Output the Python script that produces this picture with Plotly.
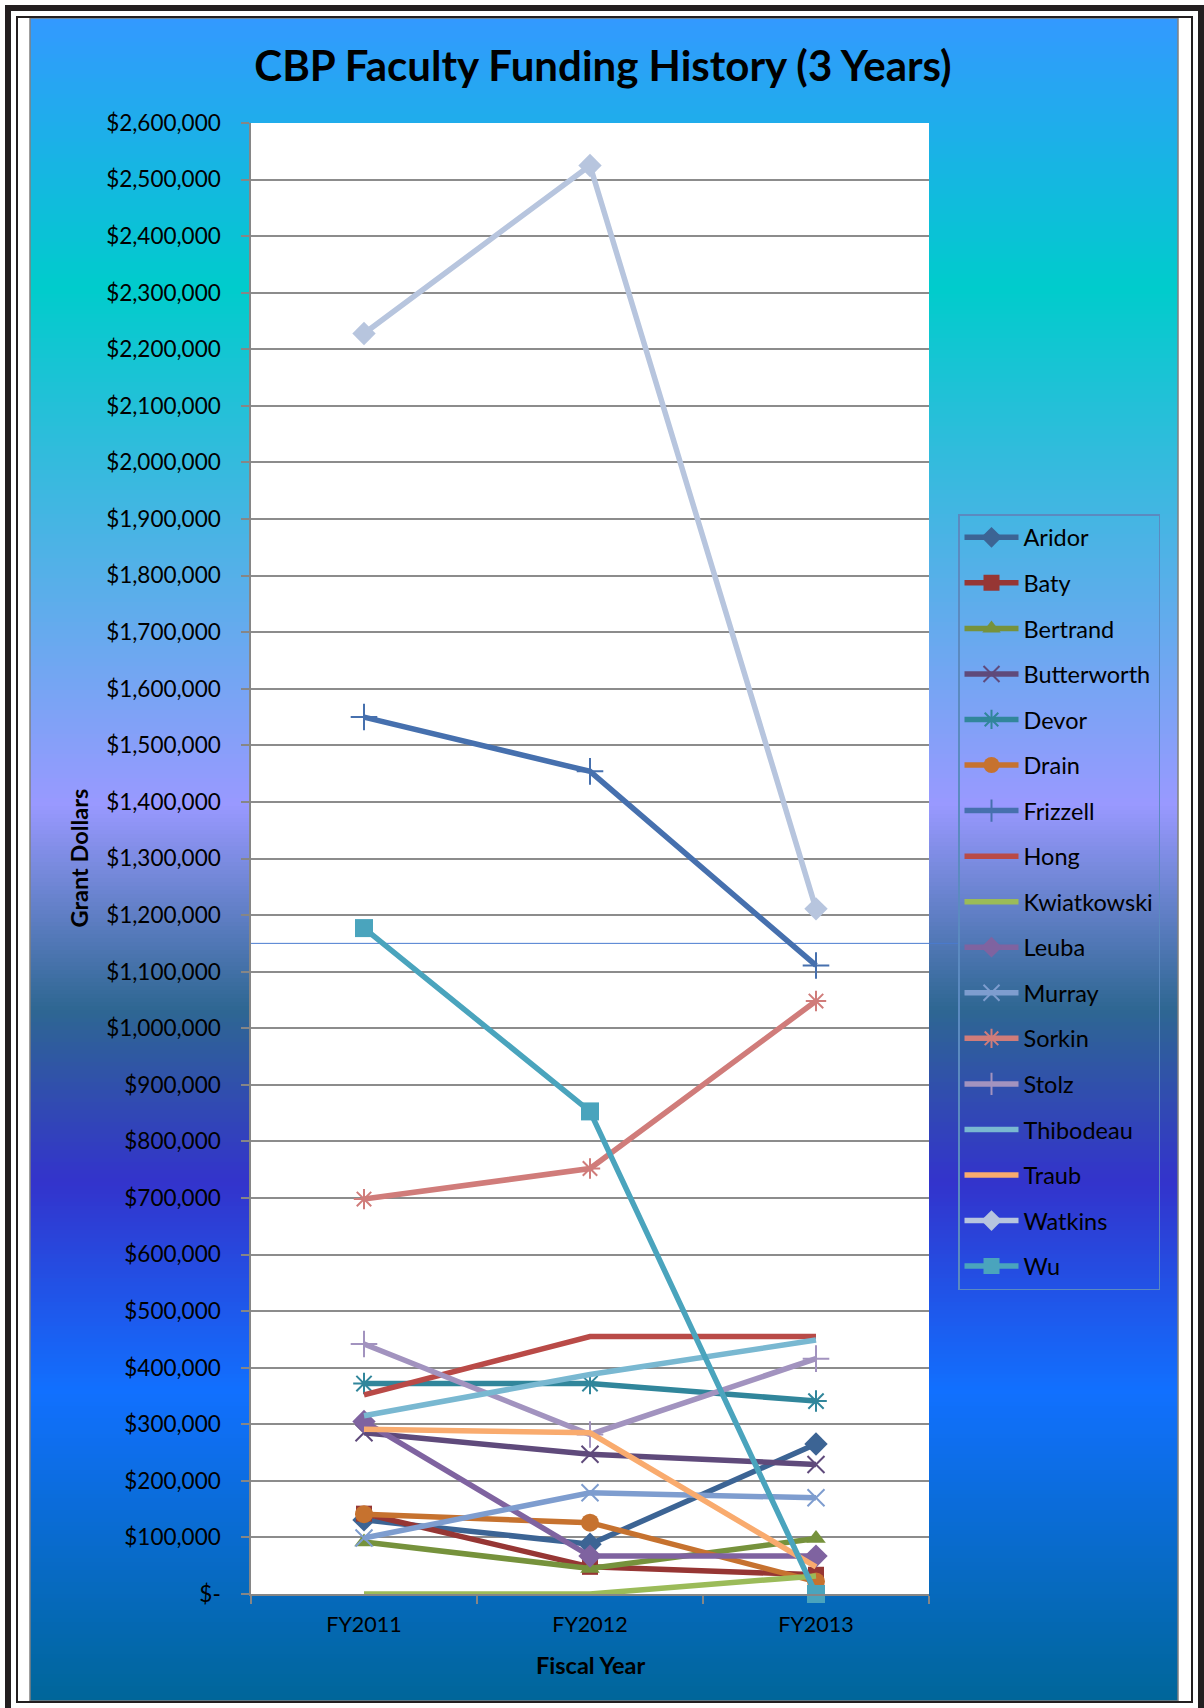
import plotly.graph_objects as go

# ---- data -------------------------------------------------------------
fiscal_years = ["FY2011", "FY2012", "FY2013"]

faculty = [
    "Aridor", "Baty", "Bertrand", "Butterworth", "Devor", "Drain", "Frizzell",
    "Hong", "Kwiatkowski", "Leuba", "Murray", "Sorkin", "Stolz", "Thibodeau",
    "Traub", "Watkins", "Wu",
]

aridor = [131000, 88000, 265000]
baty = [142000, 48000, 34000]
bertrand = [92000, 45000, 98000]
butterworth = [285000, 247000, 229000]
devor = [372000, 372000, 341000]
drain = [141000, 126000, 22000]
frizzell = [1550000, 1454000, 1111000]
hong = [352000, 455000, 455000]
kwiatkowski = [0, 0, 32000]
leuba = [305000, 67000, 67000]
murray = [99000, 179000, 170000]
sorkin = [698000, 752000, 1048000]
stolz = [442000, 282000, 416000]
thibodeau = [315000, 388000, 449000]
traub = [291000, 285000, 48000]
watkins = [2228000, 2525000, 1211000]
wu = [1177000, 853000, 0]

series_values = [
    aridor, baty, bertrand, butterworth, devor, drain, frizzell, hong,
    kwiatkowski, leuba, murray, sorkin, stolz, thibodeau, traub, watkins, wu,
]

y_tick_values = list(range(0, 2600001, 100000))
y_tick_labels = ["$-"] + ["${:,}".format(v) for v in y_tick_values[1:]]

# ---- styling ----------------------------------------------------------
series_colors = [
    "#3C6494", "#963634", "#76923C", "#5F4A7B", "#31869B", "#C6722F",
    "#4670AE", "#B94A47", "#9BBB59", "#7F63A0", "#7E9DCF", "#D07C7A",
    "#A293BF", "#79B8D1", "#F9AB6E", "#B7C5DE", "#4AA4BD",
]
# (symbol, size) per series; None means line only
series_markers = [
    ("diamond", 18), ("square", 16), ("triangle-up", 17), ("x-thin-open", 17),
    ("asterisk-open", 18), ("circle", 18), ("cross-thin-open", 19), None,
    None, ("diamond", 18), ("x-thin-open", 17), ("asterisk-open", 17),
    ("cross-thin-open", 19), None, None, ("diamond", 18), ("square", 18),
]

W, H = 1204, 1708
PL, PR, PT, PB = 251, 929, 123, 1594  # plot area edges in pixels


def px_x(px):
    return (px - PL) / (PR - PL)


def px_y(py):
    return (PB - py) / (PB - PT)


FONT = "Lato"

fig = go.Figure()

for name, vals, color, mk in zip(faculty, series_values, series_colors, series_markers):
    kw = dict(
        x=fiscal_years, y=vals, name=name, legendgroup=name,
        line=dict(color=color, width=5.5), cliponaxis=False,
    )
    if mk is None:
        kw["mode"] = "lines"
    else:
        sym, size = mk
        kw["mode"] = "lines+markers"
        if sym.endswith("-open"):
            kw["marker"] = dict(symbol=sym, size=size, color=color,
                                line=dict(color=color, width=2))
        else:
            kw["marker"] = dict(symbol=sym, size=size, color=color,
                                line=dict(color=color, width=0))
    fig.add_trace(go.Scatter(**kw))

# ---- background: framed vertical gradient -----------------------------
shapes = []

grad_stops = [
    (18, (0x33, 0x99, 0xFF)),
    (287, (0x00, 0xCC, 0xCC)),
    (805, (0x99, 0x99, 0xFF)),
    (1009, (0x2E, 0x67, 0x92)),
    (1182, (0x33, 0x33, 0xCC)),
    (1391, (0x11, 0x70, 0xFF)),
    (1701, (0x00, 0x66, 0x99)),
]


def grad_color(py):
    for (y0, c0), (y1, c1) in zip(grad_stops[:-1], grad_stops[1:]):
        if py <= y1:
            t = (py - y0) / (y1 - y0)
            t = min(max(t, 0.0), 1.0)
            rgb = [round(a + (b - a) * t) for a, b in zip(c0, c1)]
            return "rgb({},{},{})".format(*rgb)
    c = grad_stops[-1][1]
    return "rgb({},{},{})".format(*c)


GX0, GX1, GY0, GY1 = 30, 1178, 18, 1701
step = 4
y = GY0
while y < GY1:
    y_end = min(y + step + 1, GY1)
    shapes.append(dict(
        type="rect", xref="paper", yref="paper", layer="below",
        x0=px_x(GX0), x1=px_x(GX1), y0=px_y(y), y1=px_y(y_end),
        fillcolor=grad_color(y + step / 2), line=dict(width=0),
    ))
    y += step

# white plotting panel on top of the gradient
shapes.append(dict(
    type="rect", xref="paper", yref="paper", layer="below",
    x0=0, x1=1, y0=0, y1=1, fillcolor="white", line=dict(width=0),
))
# grey edge of the gradient panel
shapes.append(dict(
    type="rect", xref="paper", yref="paper", layer="below",
    x0=px_x(GX0), x1=px_x(GX1), y0=px_y(GY0), y1=px_y(GY1),
    line=dict(color="#808080", width=1.5), fillcolor="rgba(0,0,0,0)",
))
# thin inner frame
shapes.append(dict(
    type="rect", xref="paper", yref="paper", layer="below",
    x0=px_x(17), x1=px_x(1192), y0=px_y(17), y1=px_y(1702),
    line=dict(color="#231F20", width=2), fillcolor="rgba(0,0,0,0)",
))
# heavy outer frame
shapes.append(dict(
    type="rect", xref="paper", yref="paper", layer="below",
    x0=px_x(8), x1=px_x(1201), y0=px_y(8), y1=px_y(1712),
    line=dict(color="#231F20", width=6), fillcolor="rgba(0,0,0,0)",
))
# stray thin rule across the chart
shapes.append(dict(
    type="line", xref="paper", yref="y", layer="below",
    x0=0, x1=px_x(958), y0=1150000, y1=1150000,
    line=dict(color="#4A7BD0", width=1),
))

annotations = [
    dict(text="Grant Dollars", xref="paper", yref="paper",
         x=px_x(78), y=0.5, xanchor="center", yanchor="middle",
         textangle=-90, showarrow=False,
         font=dict(family=FONT, size=23.5, color="black", weight="bold")),
    dict(text="Fiscal Year", xref="paper", yref="paper",
         x=0.5, y=px_y(1665), xanchor="center", yanchor="middle",
         showarrow=False,
         font=dict(family=FONT, size=23.5, color="black", weight="bold")),
]

fig.update_layout(
    width=W, height=H,
    margin=dict(l=PL, r=W - PR, t=PT, b=H - PB, pad=0),
    paper_bgcolor="white",
    plot_bgcolor="white",
    font=dict(family=FONT, size=22, color="black"),
    title=dict(
        text="CBP Faculty Funding History (3 Years)",
        x=603 / W, xanchor="center", y=1 - 66 / H, yanchor="middle",
        xref="container", yref="container",
        font=dict(family=FONT, size=42, color="black", weight="bold"),
    ),
    xaxis=dict(
        type="category", range=[-0.5, 2.5],
        showgrid=False, zeroline=False,
        showline=True, linecolor="#868686", linewidth=1.5,
        ticks="outside", tickson="boundaries", ticklen=8,
        tickcolor="#868686", tickwidth=1.5,
        ticklabelstandoff=10,
        tickfont=dict(family=FONT, size=21.5, color="black"),
    ),
    yaxis=dict(
        range=[0, 2600000], tickvals=y_tick_values, ticktext=y_tick_labels,
        showgrid=True, gridcolor="#8C8C8C", gridwidth=1.5,
        zeroline=False,
        showline=True, linecolor="#868686", linewidth=1.5,
        ticks="outside", ticklen=8, tickcolor="#868686", tickwidth=1.5,
        ticklabelstandoff=16,
        tickfont=dict(family=FONT, size=22.5, color="black"),
    ),
    legend=dict(
        x=px_x(958), y=px_y(514), xanchor="left", yanchor="top",
        bgcolor="rgba(0,0,0,0)", bordercolor="#5B8AC0", borderwidth=1.5,
        font=dict(family=FONT, size=23.5, color="black"),
        tracegroupgap=12, itemwidth=54,
    ),
    shapes=shapes,
    annotations=annotations,
    showlegend=True,
)

fig.write_html("out.html")
